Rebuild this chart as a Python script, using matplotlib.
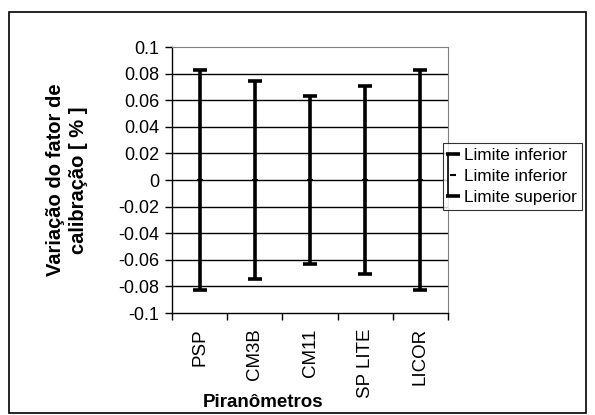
import matplotlib.pyplot as plt
from matplotlib.lines import Line2D
from matplotlib.patches import Rectangle

plt.rcParams['font.family'] = ['Liberation Sans', 'DejaVu Sans']

categorias = ["PSP", "CM3B", "CM11", "SP LITE", "LICOR"]
limite_superior = [0.083, 0.0745, 0.063, 0.0708, 0.0825]
limite_inferior = [-0.083, -0.0745, -0.063, -0.0708, -0.0825]
centro = [0, 0, 0, 0, 0]
yticks = [-0.1, -0.08, -0.06, -0.04, -0.02, 0, 0.02, 0.04, 0.06, 0.08, 0.1]
ytick_labels = ["-0.1", "-0.08", "-0.06", "-0.04", "-0.02", "0", "0.02", "0.04",
                "0.06", "0.08", "0.1"]

W, H = 595, 415
fig = plt.figure(figsize=(W / 100, H / 100), dpi=100)
ax = fig.add_axes([172 / W, 1 - 313 / H, (448 - 172) / W, (313 - 47) / H])

# moldura externa
fig.patches.append(Rectangle((9 / W, 1 - 413 / H), (586 - 9) / W, (413 - 12) / H,
                             transform=fig.transFigure, fill=False, ec='black', lw=1.2))

x = list(range(len(categorias)))
for i in x:
    ax.plot([i, i], [limite_inferior[i], limite_superior[i]], color='black', lw=2.6,
            solid_capstyle='butt', zorder=3)
ax.plot(x, limite_superior, ls='none', marker='_', ms=10, mew=2.6, color='black', zorder=4)
ax.plot(x, limite_inferior, ls='none', marker='_', ms=10, mew=2.6, color='black', zorder=4)
ax.plot(x, centro, ls='none', marker='_', ms=5, mew=1.5, color='black', zorder=4)

ax.set_xlim(-0.5, len(categorias) - 0.5)
ax.set_ylim(-0.1, 0.1)
ax.set_yticks(yticks)
ax.set_yticklabels(ytick_labels, fontsize=13)
for y in yticks[1:-1]:
    ax.axhline(y, color='black', lw=1.0, zorder=1)
ax.set_xticks(x)
ax.set_xticklabels(categorias, rotation=90, fontsize=13.5)
ax.set_xticks([i - 0.5 for i in range(len(categorias) + 1)], minor=True)
ax.tick_params(axis='x', which='major', length=0, pad=11)
ax.tick_params(axis='x', which='minor', length=5, direction='out', width=1)
ax.tick_params(axis='y', length=5, direction='out', width=1, pad=4)
for s in ['top', 'right']:
    ax.spines[s].set_color('#808080')
ax.spines['left'].set_linewidth(1)
ax.spines['bottom'].set_linewidth(1)

fig.text(67 / W, 1 - 180 / H, "Variação do fator de\ncalibração [ % ]", rotation=90,
         ha='center', va='center', fontsize=14.5, fontweight='bold', linespacing=1.25)
fig.text(263 / W, 1 - 402 / H, "Piranômetros", ha='center', va='center',
         fontsize=13.5, fontweight='bold')

handles = [
    Line2D([], [], ls='none', marker='_', ms=10, mew=2.6, color='black'),
    Line2D([], [], ls='none', marker='_', ms=5, mew=1.5, color='black'),
    Line2D([], [], ls='none', marker='_', ms=10, mew=2.6, color='black'),
]
leg = fig.legend(handles, ["Limite inferior", "Limite inferior", "Limite superior"],
                 loc='upper left', bbox_to_anchor=(443 / W, 1 - 143 / H), fontsize=12.3,
                 frameon=True, fancybox=False, handlelength=0.6, handletextpad=0.3,
                 borderpad=0.3, labelspacing=0.35, borderaxespad=0)
leg.get_frame().set_edgecolor('black')
leg.get_frame().set_linewidth(0.8)

# linha vertical ligando os marcadores da legenda
fig.canvas.draw()
lh = leg.legend_handles
inv = fig.transFigure.inverted()
p0 = inv.transform(lh[0].get_transform().transform((lh[0].get_xdata()[0], lh[0].get_ydata()[0])))
p2 = inv.transform(lh[2].get_transform().transform((lh[2].get_xdata()[0], lh[2].get_ydata()[0])))
fig.add_artist(Line2D([p0[0], p2[0]], [p0[1], p2[1]], color='black', lw=1.2,
                      transform=fig.transFigure, zorder=10))

fig.savefig("out.png", dpi=100)
